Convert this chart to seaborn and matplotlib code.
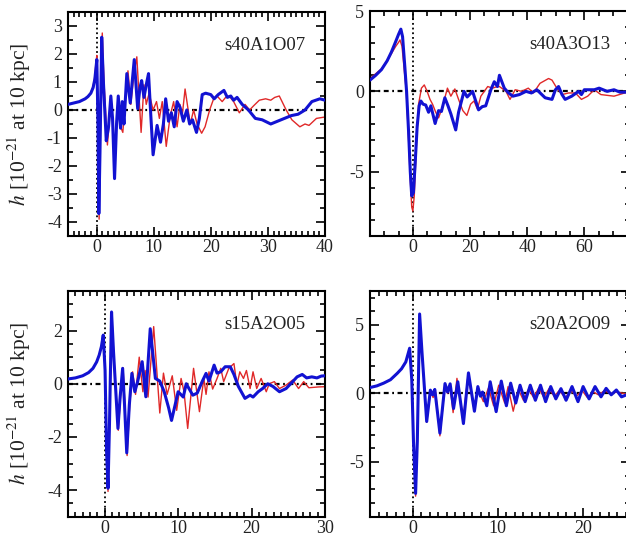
import matplotlib
matplotlib.use("Agg")
import matplotlib.pyplot as plt
from matplotlib.ticker import MultipleLocator
import seaborn as sns
import pandas as pd

# ---------------- data ----------------
titles = ["s40A1O07", "s40A3O13", "s15A2O05", "s20A2O09"]

blue1 = [(-5,0.2),(-4,0.25),(-3,0.3),(-2,0.4),(-1.5,0.48),(-1,0.6),(-0.6,0.8),(-0.3,1.1),(-0.1,1.5),(0.05,1.8),
         (0.25,-0.5),(0.4,-3.7),(0.6,-1.5),(0.9,2.6),(1.2,1.0),(1.7,-1.1),(2.1,-0.6),(2.5,0.5),(2.8,-0.3),(3.15,-2.45),
         (3.5,-0.5),(3.8,0.5),(4.2,-0.65),(4.5,0.3),(4.8,-0.5),(5.3,1.3),(5.9,0.25),(6.6,1.8),(7.2,0.05),(7.6,0.8),
         (7.9,1.05),(8.3,0.45),(8.8,1.0),(9.1,1.3),(9.5,-0.2),(9.9,-1.6),(10.6,-0.55),(11.2,-1.15),(11.7,-0.5),(12.1,0.4),
         (12.6,-0.4),(13.1,-0.1),(13.6,-0.6),(14.1,0.3),(14.6,0.1),(15.2,-0.4),(15.8,0.0),(16.3,-0.5),(16.8,-0.35),(17.5,-0.8),
         (18.0,-0.3),(18.5,0.55),(19.1,0.6),(20.0,0.55),(20.6,0.4),(21.3,0.55),(22.3,0.7),(22.9,0.45),(23.5,0.5),(24.0,0.35),
         (24.6,0.45),(25.5,0.2),(26.6,0.0),(27.8,-0.3),(29.0,-0.35),(30.5,-0.5),(31.7,-0.4),(32.9,-0.3),(34.1,-0.2),(35.3,-0.15),
         (36.5,0.0),(37.7,0.3),(39.1,0.4),(40,0.35)]
red1 = [(-5,0.2),(-4,0.25),(-3,0.3),(-2,0.4),(-1.5,0.5),(-1,0.62),(-0.6,0.85),(-0.3,1.2),(-0.1,1.7),(0.05,1.95),
        (0.25,-0.8),(0.45,-3.9),(0.65,-1.2),(1.0,2.75),(1.3,1.0),(1.9,-1.25),(2.2,-0.5),(2.5,0.5),(2.8,-0.3),(3.15,-2.3),
        (3.5,-0.4),(3.8,0.45),(4.2,-0.6),(4.6,-0.8),(5.0,0.3),(5.5,1.4),(6.0,0.2),(6.5,1.2),(7.05,1.9),(7.8,-0.8),
        (8.3,0.9),(8.7,0.2),(9.2,0.6),(9.9,0.0),(10.5,0.3),(11.0,-0.3),(11.5,0.3),(12.2,-1.3),(12.9,-0.2),(13.5,0.3),
        (14.1,-0.6),(14.6,0.2),(15.0,-0.2),(15.5,0.75),(16.4,-0.5),(17.0,0.0),(17.6,-0.5),(18.4,-0.83),(19.0,-0.6),(19.8,0.0),
        (20.5,0.4),(21.1,0.5),(22.0,0.3),(22.6,0.45),(23.2,0.5),(24.0,0.3),(25.0,-0.1),(26.0,0.2),(26.8,0.0),(27.5,0.15),
        (28.5,0.35),(29.6,0.4),(30.5,0.35),(31.2,0.45),(32.0,0.5),(33.2,0.0),(34.2,-0.35),(35.6,-0.6),(36.5,-0.5),(37.2,-0.55),
        (38.5,-0.3),(40,-0.25)]

blue2 = [(-15,0.7),(-13,1.0),(-11,1.35),(-9,1.9),(-7.5,2.45),(-6,3.1),(-5,3.55),(-4.2,3.87),(-3.6,3.4),(-2.8,1.5),
         (-2.2,0.0),(-1.5,-2.5),(-0.9,-5.0),(-0.4,-6.5),(0.2,-6.3),(0.8,-4.5),(1.5,-2.2),(2.2,-0.9),(2.8,-0.6),(3.6,-0.8),
         (4.5,-0.85),(5.5,-1.3),(6.3,-0.9),(7.8,-2.0),(9.0,-1.2),(10.0,-1.25),(11.2,-0.4),(12.3,-0.9),(13.3,-1.4),(15.0,-2.4),
         (16.0,-1.3),(17.9,0.0),(19.0,-0.35),(20.9,0.0),(22.0,-0.6),(23.0,-1.15),(24.3,-0.95),(25.5,-0.9),(27.3,0.1),(28.5,0.6),
         (29.6,0.3),(30.3,1.0),(32.0,0.2),(33.5,-0.1),(35.0,-0.3),(37.3,-0.2),(39.6,0.0),(41.5,-0.1),(43.4,0.1),(46.3,-0.4),
         (48.7,-0.5),(49.9,0.1),(51.0,0.3),(52.2,-0.2),(53.3,-0.5),(55.6,-0.3),(58.0,0.0),(59.0,-0.2),(60.0,0.1),(63.5,0.1),
         (65.2,0.2),(68.0,0.0),(70.4,0.1),(72.5,-0.05),(76,-0.05)]
red2 = [(-15,0.8),(-13,1.1),(-11,1.4),(-9,1.9),(-7.5,2.35),(-6,2.8),(-5,3.05),(-4.5,3.2),(-3.8,2.8),(-3.0,1.3),
        (-2.3,0.0),(-1.6,-2.6),(-0.9,-5.5),(-0.4,-7.2),(0.0,-7.45),(0.5,-6.5),(1.2,-3.5),(2.0,-0.8),(3.0,0.2),(4.0,0.4),
        (5.0,0.0),(6.0,-0.5),(6.9,-0.8),(8.0,-1.3),(9.0,-1.65),(10.3,-1.0),(12.1,0.2),(13.3,-0.3),(14.7,0.15),(16.0,-0.5),
        (17.5,-1.2),(18.9,-1.5),(20.2,-0.8),(21.4,-0.6),(22.6,-1.1),(23.8,-0.3),(25.0,0.0),(26.2,0.3),(27.9,0.2),(29.6,0.3),
        (30.3,0.3),(32.6,0.0),(34.0,-0.5),(35.8,0.1),(38.1,0.0),(40.4,0.2),(42.2,-0.1),(44.5,0.5),(47.5,0.8),(48.7,0.7),
        (50.4,0.2),(52.2,-0.2),(54.5,-0.1),(56.9,-0.1),(59.0,-0.5),(61.2,-0.3),(63.5,0.1),(65.8,-0.2),(70.4,-0.3),(76,0.0)]

blue3 = [(-5,0.18),(-4,0.22),(-3,0.3),(-2.2,0.42),(-1.6,0.58),(-1.1,0.82),(-0.75,1.08),(-0.45,1.4),(-0.2,1.83),(0.05,0.5),
         (0.25,-2.5),(0.45,-3.93),(0.65,-1.5),(0.93,2.7),(1.2,1.2),(1.8,-1.68),(2.1,-0.5),(2.44,0.58),(2.7,-0.8),(3.0,-2.6),
         (3.35,-0.8),(3.7,0.39),(4.1,-0.3),(4.5,0.1),(5.1,0.83),(5.6,-0.49),(6.2,2.07),(6.9,0.2),(7.5,0.1),(8.1,-0.3),
         (8.7,-0.9),(9.1,-1.38),(10.0,-0.3),(10.7,-0.5),(11.1,0.0),(12.0,-0.43),(12.6,-0.35),(13.3,0.1),(13.8,0.39),(14.2,0.1),
         (14.9,0.7),(15.3,0.4),(15.8,0.45),(16.4,0.64),(17.1,0.64),(17.6,0.35),(18.2,-0.1),(19.1,-0.55),(19.8,-0.43),(20.2,-0.5),
         (20.9,-0.3),(21.5,-0.18),(22.2,0.0),(22.9,-0.1),(23.8,-0.3),(24.7,-0.18),(25.6,0.08),(26.2,0.26),(26.9,0.35),(27.5,0.22),
         (28.2,0.26),(28.9,0.22),(29.5,0.29),(30,0.3)]
red3 = [(-5,0.18),(-4,0.22),(-3,0.3),(-2.2,0.42),(-1.6,0.58),(-1.1,0.82),(-0.75,1.08),(-0.45,1.4),(-0.2,1.85),(0.05,0.5),
        (0.25,-2.6),(0.45,-4.05),(0.65,-1.6),(0.95,2.65),(1.25,1.0),(1.85,-1.75),(2.15,-0.5),(2.5,0.6),(2.75,-0.8),(3.05,-2.7),
        (3.4,-0.8),(3.8,0.45),(4.2,-0.4),(4.7,1.0),(5.2,-0.3),(5.5,0.5),(5.9,-0.5),(6.67,2.15),(7.5,-1.1),(8.0,0.4),
        (8.5,-0.4),(9.2,0.3),(9.8,-1.0),(10.4,0.2),(10.8,-0.3),(11.3,-1.68),(12.1,0.58),(12.9,-1.05),(13.5,0.2),(13.8,-0.4),
        (14.2,0.45),(14.7,-0.2),(15.3,0.2),(15.8,0.58),(16.2,0.08),(16.9,0.58),(17.6,0.76),(18.0,-0.05),(18.4,0.45),(18.9,0.2),
        (19.3,0.5),(19.8,-0.18),(20.2,0.45),(20.7,-0.18),(21.3,0.2),(22.0,-0.3),(22.4,0.0),(23.1,0.08),(23.8,-0.18),(24.7,-0.05),
        (25.6,0.14),(26.4,-0.18),(27.1,0.08),(27.8,-0.15),(29.1,-0.12),(30,-0.11)]

blue4 = [(-5,0.43),(-4.2,0.55),(-3.4,0.75),(-2.6,1.0),(-1.8,1.47),(-1.3,1.8),(-0.8,2.3),(-0.35,3.3),(-0.1,1.0),(0.1,-3.5),
         (0.35,-7.3),(0.55,-3.5),(0.82,5.8),(1.1,3.0),(1.65,-2.05),(2.08,0.24),(2.35,-0.1),(2.6,0.29),(3.2,-2.9),(3.8,0.72),
         (4.1,0.1),(4.4,0.7),(4.8,-1.1),(5.3,0.85),(5.96,-2.2),(6.55,1.5),(7.25,-1.3),(7.65,0.5),(7.95,-0.2),(8.2,0.1),
         (8.7,-0.9),(9.1,0.85),(9.8,-1.33),(10.4,0.9),(11.0,-0.9),(11.5,0.75),(12.1,-0.7),(12.6,0.6),(13.2,-0.6),(13.8,0.6),
         (14.4,-0.5),(15.0,0.6),(15.6,-0.6),(16.2,0.5),(16.8,-0.4),(17.4,0.35),(18.0,-0.5),(18.7,0.5),(19.4,-0.6),(20.0,0.5),
         (20.7,-0.4),(21.4,0.5),(22.1,-0.25),(22.7,0.37),(23.3,-0.1),(23.9,0.25),(24.5,-0.25),(25.5,0.0)]
red4 = [(-5,0.43),(-4.2,0.55),(-3.4,0.75),(-2.6,1.0),(-1.8,1.47),(-1.3,1.8),(-0.8,2.3),(-0.35,3.25),(-0.1,1.0),(0.1,-3.6),
        (0.35,-7.5),(0.55,-3.6),(0.82,5.7),(1.1,3.0),(1.65,-2.1),(2.1,0.2),(2.4,-0.3),(2.7,0.1),(3.2,-3.1),(3.8,0.6),
        (4.1,0.0),(4.4,0.5),(4.75,-1.4),(5.2,1.1),(5.9,-2.0),(6.5,1.3),(7.2,-1.1),(7.7,0.3),(8.3,-0.6),(8.9,0.4),
        (9.5,-0.9),(10.1,0.6),(10.8,-0.7),(11.2,0.5),(11.8,-1.3),(12.4,0.3),(13.0,-0.5),(13.6,0.3),(14.2,-0.3),(14.8,0.4),
        (15.4,-0.3),(16.0,0.35),(16.6,-0.2),(17.2,0.2),(17.9,-0.3),(18.6,0.2),(19.2,-0.2),(19.9,0.2),(20.5,-0.3),(21.2,0.1),
        (21.8,-0.1),(22.5,0.2),(23.2,0.0),(24.0,0.1),(25.5,-0.1)]

xlims = [(-5, 40), (-15, 76), (-5, 30), (-5, 25.5)]
ylims = [(-4.5, 3.5), (-9, 5), (-5, 3.5), (-9, 7.5)]
x_major = [10, 20, 10, 10]
x_minor = [1, 5, 1, 1]
y_major = [1, 5, 2, 5]
y_minor = [0.5, 1, 0.5, 1]
ylabel = r"$h$ [10$^{-21}$ at 10 kpc]"

# ---------------- style ----------------
sns.set_style("ticks")
plt.rcParams["font.family"] = ["Liberation Serif", "DejaVu Serif"]
plt.rcParams["mathtext.fontset"] = "stix"
plt.rcParams["axes.unicode_minus"] = False

RED = "#e02828"
BLUE = "#1212d2"

fig = plt.figure(figsize=(6.26, 5.38), dpi=100)
WL = 257 / 626
WR = 260 / 626
positions = [
    (68 / 626, 1 - 236 / 538, WL, 224 / 538),
    (370 / 626, 1 - 236 / 538, WR, 225 / 538),
    (68 / 626, 1 - 516.7 / 538, WL, 226 / 538),
    (370 / 626, 1 - 516.7 / 538, WR, 226 / 538),
]
series = [(blue1, red1), (blue2, red2), (blue3, red3), (blue4, red4)]

for i, (pos, (b, r)) in enumerate(zip(positions, series)):
    ax = fig.add_axes(pos)
    dfb = pd.DataFrame(b, columns=["t", "h"])
    dfr = pd.DataFrame(r, columns=["t", "h"])
    ax.axhline(0, color="black", lw=1.6, ls=(0, (2.2, 1.6, 0.8, 1.6)), zorder=1)
    ax.axvline(0, color="black", lw=1.3, ls=(0, (1, 1.6)), zorder=1)
    sns.lineplot(data=dfr, x="t", y="h", ax=ax, color=RED, lw=1.0, estimator=None, sort=False, zorder=2)
    sns.lineplot(data=dfb, x="t", y="h", ax=ax, color=BLUE, lw=2.2, estimator=None, sort=False, zorder=3)
    ax.set_xlim(*xlims[i])
    ax.set_ylim(*ylims[i])
    ax.xaxis.set_major_locator(MultipleLocator(x_major[i]))
    ax.xaxis.set_minor_locator(MultipleLocator(x_minor[i]))
    ax.yaxis.set_major_locator(MultipleLocator(y_major[i]))
    ax.yaxis.set_minor_locator(MultipleLocator(y_minor[i]))
    ax.tick_params(which="both", direction="in", top=True, right=True, width=1.2, colors="black",
                   labelsize=13, labelcolor="#222222")
    ax.tick_params(which="major", length=6.5)
    ax.tick_params(which="minor", length=3.5)
    ax.tick_params(axis="x", which="major", pad=2.5)
    ax.tick_params(axis="y", which="major", pad=4.5)
    for s in ax.spines.values():
        s.set_linewidth(1.5)
        s.set_color("black")
    ax.set_xlabel("")
    if i in (0, 2):
        ax.set_ylabel(ylabel, fontsize=15.5, color="#222222")
        ax.yaxis.set_label_coords(-0.135, 0.5)
    else:
        ax.set_ylabel("")
    ax.text(0.925, 0.85, titles[i], transform=ax.transAxes, ha="right", va="center",
            fontsize=13.5, color="#222222")

fig.savefig("out.png", dpi=100)
